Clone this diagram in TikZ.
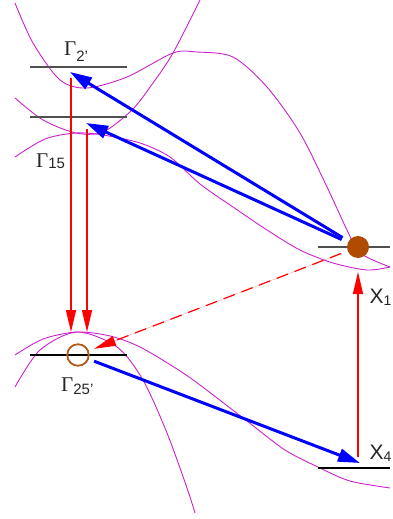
\documentclass[tikz,border=0pt]{standalone}
\usepackage{fontspec}
\usepackage{tikz}
\usetikzlibrary{arrows.meta}
\newfontfamily\lblsans{Liberation Sans}
\newfontfamily\lblserif{Liberation Serif}
\definecolor{bandmag}{HTML}{CC22CC}
\definecolor{holebrown}{HTML}{B35A1A}
\definecolor{elecbrown}{HTML}{B04A00}
\definecolor{lvlgray}{HTML}{505050}

\begin{document}
\begin{tikzpicture}[x=1pt,y=-1pt,
  band/.style={draw=bandmag,line width=0.9pt},
  lvl/.style={draw=lvlgray,line width=1.3pt},
  vlvl/.style={draw=black,line width=1.2pt},
  elec/.style={circle,fill=elecbrown,minimum size=22pt,inner sep=0pt,outer sep=7pt},
  hole/.style={circle,draw=holebrown,line width=1.8pt,minimum size=21.5pt,inner sep=0pt,outer sep=6.5pt},
  barr/.style={-{Triangle[length=22pt,width=13pt]},line width=3pt,draw=blue,fill=blue},
  rarr/.style={-{Triangle[length=22pt,width=10pt]},line width=1.2pt,draw=red,fill=red},
  lbl/.style={inner sep=0pt,anchor=base west,font=\lblsans,text=black!85}
]
\useasboundingbox (0,0) rectangle (393,519);

% conduction bands
\draw[band] plot[smooth] coordinates {(15,3) (33,43) (60,80) (87,88) (127,77) (173,53)
  (197,52) (233,57) (267,87) (300,133) (327,187) (347,230) (360,253) (390,267)};
\draw[band] plot[smooth] coordinates {(15,98) (43,120) (76,133) (103,132) (132,110)
  (153,83) (173,53) (200,0)};
\draw[band] plot[smooth] coordinates {(15,157) (45,139) (76,133) (103,135) (140,143)
  (170,157) (200,184) (233,207) (267,230) (300,250) (333,263) (367,270) (390,267)};
% valence bands
\draw[band] plot[smooth] coordinates {(15,355) (43,339) (77,332) (110,336) (140,347)
  (177,369) (200,385) (247,421) (285,450) (320,468) (350,481) (390,488)};
\draw[band] plot[smooth] coordinates {(15,387) (40,350) (77,332) (117,347) (143,380)
  (167,433) (187,488) (195,513)};

% levels
\draw[lvl] (30,67) -- (127,67);
\draw[lvl] (30,117) -- (127,117);
\draw[lvl] (318,247) -- (390,247);
\draw[vlvl] (30,355) -- (127,355);
\draw[vlvl] (318,468) -- (390,468);

\node[elec] (x1e) at (358,247) {};
\node[hole] (g25h) at (78,355) {};

\coordinate (g2t) at (70,72);
\coordinate (g15t) at (86,123);
\coordinate (g2s) at (71,78);
\coordinate (g2v) at (71,332);
\coordinate (g15s) at (87,129);
\coordinate (g15v) at (87,332);
\coordinate (x4t) at (360,463);
\coordinate (x4s) at (358,457);
\coordinate (x1t) at (358,272);

\draw[rarr] (g2s) -- (g2v);
\draw[rarr] (g15s) -- (g15v);
\draw[rarr] (x4s) -- (x1t);
\draw[rarr,dash pattern=on 12pt off 7pt] (x1e) -- (g25h);
\draw[barr] (x1e) -- (g2t);
\draw[barr] (x1e) -- (g15t);
\draw[barr] (g25h) -- (x4t);

% labels
\node[lbl] (g2l) at (64,56) {{\lblserif\fontsize{21}{21}\selectfont Γ}\raisebox{-5.7pt}{\fontsize{15}{15}\selectfont 2’}};
\node[lbl] (g15l) at (36,167) {{\lblserif\fontsize{21}{21}\selectfont Γ}\raisebox{-1pt}{\fontsize{15}{15}\selectfont 15}};
\node[lbl] (g25l) at (61,391) {{\lblserif\fontsize{21}{21}\selectfont Γ}\raisebox{-3pt}{\fontsize{15}{15}\selectfont 25’}};
\node[lbl] (x1l) at (369.5,303) {{\fontsize{21}{21}\selectfont X}\raisebox{-2pt}{\fontsize{14}{14}\selectfont 1}};
\node[lbl] (x4l) at (369.5,459) {{\fontsize{21}{21}\selectfont X}\raisebox{-2pt}{\fontsize{14}{14}\selectfont 4}};
\end{tikzpicture}
\end{document}
